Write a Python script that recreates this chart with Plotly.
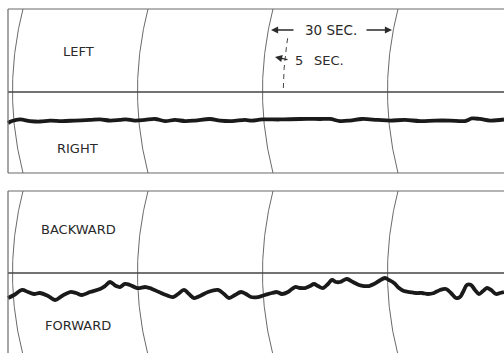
import numpy as np
import plotly.graph_objects as go

# Chart-paper time lines (seconds) and the 5-second reference line
time_marks = [0, 30, 60, 90]
five_sec_mark = 65

# LEFT (+) / RIGHT (-) record: time (s), pen deflection (chart units)
lr_t = [-3.6, -2.64, -0.72, 1.68, 4.08, 6.48, 9.36, 12.48, 16.08, 18.48, 20.88,
        23.28, 24.72, 26.88, 29.28, 31.68, 34.08, 36.48, 38.88, 41.28, 44.88,
        47.28, 50.16, 53.28, 54.96, 57.36, 61.68, 66.48, 71.28, 73.68, 76.08,
        78.48, 81.36, 85.2, 88.08, 91.68, 95.28, 98.88, 102.48, 106.08, 107.76,
        109.68, 112.08, 115.44]
lr_val = [-3.78, -3.54, -3.35, -3.54, -3.60, -3.48, -3.54, -3.48, -3.41, -3.35,
          -3.48, -3.41, -3.35, -3.48, -3.41, -3.29, -3.54, -3.41, -3.54, -3.48,
          -3.29, -3.48, -3.54, -3.41, -3.48, -3.35, -3.35, -3.29, -3.29, -3.29,
          -3.54, -3.48, -3.29, -3.41, -3.48, -3.41, -3.54, -3.48, -3.48, -3.54,
          -3.23, -3.29, -3.48, -3.35]

# BACKWARD (+) / FORWARD (-) record: time (s), pen deflection (chart units)
fb_t = [-3.6, -2.16, -0.24, 1.2, 2.64, 4.08, 6.0, 7.68, 9.36, 11.28, 12.72,
        14.16, 16.08, 18.48, 19.68, 20.88, 22.32, 23.28, 24.48, 25.68, 27.36,
        29.52, 30.96, 32.64, 34.32, 36.0, 37.2, 38.64, 39.84, 41.04, 42.48,
        44.4, 46.8, 48.24, 49.44, 50.88, 52.32, 53.52, 54.72, 56.4, 58.08,
        59.76, 60.96, 62.16, 63.6, 65.28, 66.48, 67.68, 68.88, 69.84, 70.8,
        72.0, 73.2, 74.16, 75.12, 76.08, 77.04, 77.76, 79.2, 80.64, 81.84,
        83.04, 84.24, 85.44, 86.88, 87.84, 89.04, 90.24, 91.44, 92.88, 94.32,
        95.76, 97.2, 98.64, 100.08, 101.52, 102.72, 103.92, 104.88, 105.6,
        106.56, 107.52, 108.48, 109.44, 110.4, 111.36, 112.32, 113.52, 114.48,
        115.44]
fb_val = [-3.05, -2.68, -2.07, -2.32, -2.56, -2.44, -2.80, -3.29, -2.80, -2.32,
          -2.44, -2.68, -2.32, -1.95, -1.59, -1.10, -1.59, -1.71, -1.34, -1.46,
          -1.83, -1.71, -1.95, -2.32, -2.68, -2.93, -2.56, -2.07, -2.56, -3.05,
          -2.80, -2.32, -2.07, -2.56, -3.05, -2.68, -2.32, -2.56, -2.93, -2.93,
          -2.68, -2.44, -2.32, -2.56, -2.32, -1.71, -1.83, -1.83, -1.59, -1.34,
          -1.59, -1.83, -1.34, -0.85, -1.10, -1.10, -0.85, -0.73, -1.10, -1.46,
          -1.59, -1.59, -1.34, -0.98, -0.61, -0.85, -1.22, -1.83, -2.20, -2.32,
          -2.44, -2.44, -2.56, -2.44, -2.07, -1.95, -2.44, -3.05, -2.93, -2.32,
          -1.46, -1.46, -2.07, -2.56, -2.20, -1.83, -2.07, -2.56, -2.44, -2.32]

# Scale labels
top_labels = ["LEFT", "RIGHT"]
bottom_labels = ["BACKWARD", "FORWARD"]
span_label = "30 SEC."
five_label = "5"
sec_label = "SEC."

# ---- page geometry (pixels) ----
W, H = 504, 353
PX_PER_S = 125 / 30.0      # chart speed
T0_PX = 23                 # x of the first time line
PX_PER_UNIT = 8.2          # pen deflection scale
ARC_SAG_S = 10.5 / PX_PER_S  # bow of the pen-arc time lines

def px_x(px):
    return px / W

def px_y(py):
    return 1 - py / H

x_range = [(0 - T0_PX) / PX_PER_S, (W - T0_PX) / PX_PER_S]

# panel edges: top, centre line, bottom
P1 = (9, 92, 173)
P2 = (191, 273, 353)

def y_range(p):
    top, mid, bot = p
    return [-(bot - mid) / PX_PER_UNIT, (mid - top) / PX_PER_UNIT]

GRID = "#6a6a6a"
CENTER = "#444444"
INK = "#1a1a1a"
TEXT = "#2a2a2a"

fig = go.Figure()

def arc(t0, yc, h, y_lo, y_hi, xa, ya, dash=None, color=GRID, width=1):
    yy = np.linspace(y_lo, y_hi, 80)
    xx = t0 - ARC_SAG_S * (1 - ((yy - yc) / h) ** 2)
    fig.add_trace(go.Scatter(x=xx, y=yy, mode="lines", xaxis=xa, yaxis=ya,
                             line=dict(color=color, width=width, dash=dash),
                             hoverinfo="skip", showlegend=False))

# curved time lines in both panels
h1 = (P1[2] - P1[0]) / 2 / PX_PER_UNIT
yc1 = (P1[1] - (P1[0] + P1[2]) / 2) / PX_PER_UNIT
h2 = (P2[1] - P2[0]) / PX_PER_UNIT
for t in time_marks:
    arc(t, yc1, h1, yc1 - h1, yc1 + h1, "x", "y")
    arc(t, 0, h2, -h2, h2, "x2", "y2")

# dashed 5-second reference line
arc(five_sec_mark, yc1, h1, (P1[1] - 88) / PX_PER_UNIT, (P1[1] - 38) / PX_PER_UNIT,
    "x", "y", dash="5px,4px", color="#444444", width=1)

# pen records
pen = dict(color=INK, width=3.8, shape="spline", smoothing=1.0)
fig.add_trace(go.Scatter(x=lr_t, y=lr_val, mode="lines", xaxis="x", yaxis="y",
                         line=pen, hoverinfo="skip", showlegend=False))
fig.add_trace(go.Scatter(x=fb_t, y=fb_val, mode="lines", xaxis="x2", yaxis="y2",
                         line=pen, hoverinfo="skip", showlegend=False))

# panel frames and centre lines
shapes = []
for p in (P1, P2):
    top, mid, bot = p
    shapes.append(dict(type="line", xref="paper", yref="paper", x0=px_x(8), x1=1,
                       y0=px_y(top), y1=px_y(top), line=dict(color=GRID, width=1.2)))
    shapes.append(dict(type="line", xref="paper", yref="paper", x0=px_x(8), x1=1,
                       y0=px_y(mid), y1=px_y(mid), line=dict(color=CENTER, width=1.4)))
    if bot < H:
        shapes.append(dict(type="line", xref="paper", yref="paper", x0=px_x(8), x1=1,
                           y0=px_y(bot), y1=px_y(bot), line=dict(color=GRID, width=1.2)))
    shapes.append(dict(type="line", xref="paper", yref="paper", x0=px_x(8), x1=px_x(8),
                       y0=px_y(top), y1=px_y(min(bot, H)), line=dict(color=GRID, width=1.2)))

annotations = []

def label(text, cx, cy, size=13):
    annotations.append(dict(text=text, xref="paper", yref="paper", x=px_x(cx), y=px_y(cy),
                            xanchor="center", yanchor="middle", showarrow=False,
                            font=dict(family="DejaVu Sans", size=size, color=TEXT)))

label(top_labels[0], 78, 52)
label(top_labels[1], 77, 148)
label(bottom_labels[0], 78, 229)
label(bottom_labels[1], 78, 325)
label(span_label, 331, 30, 13.5)
label(five_label, 299, 60, 13)
label(sec_label, 329, 60, 13)

def arrow(hx, hy, ax, ay):
    annotations.append(dict(text="", xref="paper", yref="paper", x=px_x(hx), y=px_y(hy),
                            ax=ax, ay=ay, showarrow=True, arrowhead=2, arrowsize=1.1,
                            arrowwidth=1.3, arrowcolor="#2a2a2a"))

arrow(271, 30, 24, 0)
arrow(392, 30, -27, 0)
arrow(275, 57, 14, 3)

fig.update_layout(
    width=W, height=H, margin=dict(l=0, r=0, t=0, b=0),
    paper_bgcolor="white", plot_bgcolor="white",
    shapes=shapes, annotations=annotations, showlegend=False,
    xaxis=dict(domain=[0, 1], range=x_range, visible=False, fixedrange=True),
    xaxis2=dict(domain=[0, 1], range=x_range, visible=False, fixedrange=True, anchor="y2"),
    yaxis=dict(domain=[px_y(P1[2]), px_y(P1[0])], range=y_range(P1), visible=False,
               fixedrange=True, anchor="x"),
    yaxis2=dict(domain=[0, px_y(P2[0])], range=y_range(P2), visible=False,
                fixedrange=True, anchor="x2"),
)

fig.write_html("out.html")
